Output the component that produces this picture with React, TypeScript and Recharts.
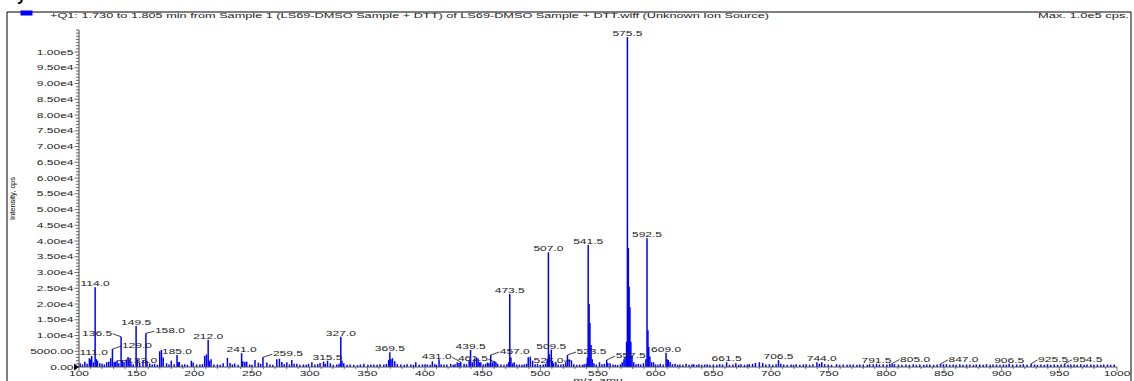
import React from 'react';
import { ComposedChart, Scatter, XAxis, YAxis, ErrorBar } from 'recharts';

const FONT = '"Liberation Sans", Arial, Helvetica, sans-serif';
const BLUE = '#0000ff';
const TEXT = '#222222';

// [m/z, intensity (cps)]
const lowMassPoints: [number, number][] = [
  [101.0, 1200], [103.0, 800], [105.0, 1700], [107.0, 1000], [109.0, 2800], [110.0, 2400],
  [111.0, 3500], [112.5, 1500], [114.0, 25300], [115.0, 2500], [116.0, 2000], [118.0, 1200],
  [120.0, 1000], [122.0, 800], [124.0, 1500], [125.8, 1700], [127.5, 2800], [129.0, 5700],
  [130.5, 1500], [131.5, 1700], [133.0, 2000], [134.5, 1200], [136.5, 9600], [137.5, 2000],
  [139.0, 1600], [141.0, 2400], [142.5, 3200], [143.5, 2500], [145.0, 1200], [147.0, 900],
  [149.5, 13000], [150.5, 2500], [152.6, 1300], [155.5, 2200], [158.0, 10700], [159.0, 2000],
  [161.3, 1100], [163.5, 800], [165.6, 1000], [168.0, 700], [170.0, 5000], [171.5, 5400],
  [173.0, 3000], [175.9, 1200], [178.0, 800], [180.0, 2000], [182.5, 900], [185.0, 3800],
  [186.0, 1500], [187.0, 1600], [189.5, 700], [191.7, 900], [194.0, 700], [197.4, 2000],
  [199.0, 1400], [202.0, 800], [204.8, 800], [207.0, 900], [209.0, 3500], [210.5, 4000],
  [212.0, 8600], [213.0, 2000], [214.5, 2500], [217.0, 800], [220.0, 800], [222.5, 700],
  [225.0, 1200], [228.7, 2900], [231.0, 1300], [233.0, 800], [235.0, 1100], [238.0, 700],
  [241.0, 4400], [242.0, 1800], [243.8, 1700], [245.4, 1700], [248.0, 800],
];

const midMassPoints: [number, number][] = [
  [250.0, 700], [252.6, 2200], [255.5, 1400], [257.5, 1000], [259.5, 3100], [262.9, 1400],
  [265.5, 800], [268.0, 700], [271.5, 2500], [273.8, 2600], [275.9, 1600], [278.0, 900],
  [280.2, 1500], [282.5, 800], [284.5, 2200], [286.5, 1000], [288.9, 1000], [291.5, 700],
  [294.6, 800], [297.0, 700], [299.0, 1000], [301.9, 1500], [304.5, 800], [307.0, 900],
  [309.0, 1300], [312.0, 1700], [313.5, 1000], [315.5, 2000], [317.9, 1200], [320.5, 700],
  [323.5, 800], [325.5, 1000], [327.0, 9600], [328.0, 2000], [329.6, 1200], [332.5, 700],
  [335.0, 800], [338.3, 700], [341.5, 600], [344.0, 800], [347.0, 1000], [350.5, 700],
  [353.0, 800], [355.6, 800], [358.5, 700], [361.0, 900], [364.3, 800], [366.5, 1000],
  [368.5, 2200], [369.5, 4700], [370.5, 2500], [371.8, 2800], [373.8, 1800], [376.0, 900],
  [379.0, 800], [382.0, 700], [384.5, 900], [387.7, 800], [390.0, 700], [392.0, 1500],
  [395.0, 700], [397.8, 800], [400.0, 900], [402.0, 800], [404.5, 700], [406.4, 1800],
  [408.5, 900], [410.0, 700], [412.2, 2500], [414.0, 900], [416.5, 800], [419.0, 800],
  [422.3, 1000], [424.5, 700], [426.0, 900], [428.0, 1500], [429.5, 1300], [431.0, 1600],
  [433.9, 1000], [436.0, 900], [438.3, 2000], [439.5, 5400], [441.0, 1500], [442.6, 2500],
  [444.6, 3100], [446.0, 2700], [447.0, 1500], [448.4, 1500], [450.5, 800], [452.5, 1000],
  [454.2, 1400], [455.5, 1200], [457.0, 3800], [458.5, 1500], [460.0, 1800], [461.5, 1500],
  [463.0, 1000], [465.8, 800], [468.5, 700], [471.0, 900], [472.5, 1500], [473.5, 23200],
  [474.5, 3000], [476.0, 1200], [477.4, 1500], [479.5, 800], [481.8, 800], [484.0, 700],
  [486.0, 800], [488.0, 1000], [489.5, 3100], [491.3, 3300], [493.3, 2000], [495.5, 900],
  [497.6, 1000],
];

const clusterPoints: [number, number][] = [
  [500.0, 700], [502.5, 800], [504.5, 1000], [506.0, 2500], [507.0, 36400], [507.8, 4000],
  [509.5, 5500], [510.5, 2000], [511.5, 1200], [513.5, 1500], [515.5, 800], [517.8, 800],
  [520.0, 900], [522.0, 1500], [523.5, 3800], [525.0, 2500], [527.0, 2000], [529.0, 900],
  [531.5, 700], [534.0, 800], [536.5, 700], [538.0, 900], [539.8, 1000], [540.8, 3000],
  [541.5, 38700], [542.3, 20000], [543.0, 14000], [544.0, 7000], [545.0, 2500], [546.5, 1200],
  [548.5, 800], [551.3, 1500], [553.5, 900], [555.5, 1000], [557.5, 2200], [558.5, 1300],
  [560.5, 1200], [563.0, 800], [565.0, 700], [567.0, 700], [569.5, 900], [571.0, 1500],
  [572.5, 2500], [573.5, 3300], [574.8, 8000], [575.5, 104800], [576.3, 37800], [577.0, 25500],
  [577.7, 19000], [578.5, 8000], [579.5, 3500], [581.0, 1500], [583.0, 900], [585.0, 1000],
  [587.0, 800], [589.4, 1200], [591.5, 2500], [592.5, 40900], [593.3, 11700], [594.0, 6400],
  [595.0, 3300], [596.5, 1500], [598.2, 1500], [600.0, 800], [602.0, 700], [604.0, 1000],
  [606.5, 800], [609.0, 4500], [610.0, 2500], [611.0, 2200], [612.5, 1600], [614.5, 900],
  [616.8, 1000], [619.0, 700],
];

const highMassPoints: [number, number][] = [
  [621.0, 800], [623.5, 700], [626.4, 1000], [629.0, 700], [631.5, 800], [633.0, 900],
  [635.5, 700], [637.5, 900], [640.0, 700], [642.5, 800], [644.7, 900], [647.0, 700],
  [650.0, 800], [653.0, 700], [655.5, 900], [658.0, 800], [661.5, 1500], [664.0, 700],
  [667.0, 800], [669.5, 1200], [672.0, 700], [674.0, 900], [677.0, 700], [679.5, 800],
  [681.2, 900], [684.0, 1000], [686.5, 1300], [689.9, 1500], [692.8, 1300], [695.5, 800],
  [698.6, 900], [701.5, 700], [704.4, 900], [706.5, 2200], [708.5, 1000], [711.0, 800],
  [714.0, 700], [717.4, 800], [719.5, 700], [721.8, 900], [725.0, 700], [728.0, 800],
  [730.5, 900], [733.5, 700], [736.3, 900], [739.8, 1500], [742.0, 1000], [744.0, 1500],
  [746.5, 900], [749.6, 800], [752.5, 700], [756.8, 900], [759.5, 700], [762.6, 800],
  [766.0, 700], [768.5, 800], [771.3, 800], [774.5, 700], [777.0, 800], [780.0, 800],
  [783.5, 700], [785.5, 900], [788.6, 900], [791.5, 1000], [794.0, 800], [797.3, 900],
  [800.5, 800], [803.0, 1000], [805.0, 1100], [807.0, 900], [810.5, 800], [813.5, 700],
  [817.0, 800], [820.0, 700], [823.3, 900], [826.0, 700], [829.0, 800], [832.5, 700],
  [835.0, 800], [837.7, 800], [841.0, 700], [844.0, 800], [847.0, 1000], [849.5, 900],
  [852.1, 900], [855.0, 700], [857.9, 800], [860.5, 700], [863.7, 900], [866.5, 700],
  [869.5, 800], [872.4, 800], [875.5, 700], [878.0, 800], [881.0, 800], [884.0, 700],
  [886.8, 900], [890.0, 700], [892.5, 800], [895.5, 800], [898.5, 700], [901.5, 800],
  [904.0, 700], [906.5, 1000], [909.5, 800], [913.0, 800], [916.0, 700], [918.8, 900],
  [922.0, 700], [925.5, 1000], [928.5, 800], [931.0, 700], [934.0, 800], [937.0, 700],
  [939.8, 900], [942.5, 700], [945.6, 800], [948.5, 700], [951.5, 800], [954.5, 1000],
  [957.5, 700], [960.0, 800], [962.8, 800], [965.5, 700], [968.6, 900], [971.5, 700],
  [974.0, 800], [977.3, 800], [980.0, 700], [983.0, 800], [986.0, 700], [988.5, 800],
  [991.8, 800], [994.5, 700], [997.6, 800],
];

const labeledPeaks = [
  111.0, 114.0, 129.0, 133.0, 136.5, 149.5, 158.0, 185.0, 212.0, 241.0, 259.5, 315.5, 327.0,
  369.5, 431.0, 439.5, 457.0, 461.5, 473.5, 507.0, 509.5, 523.5, 527.0, 541.5, 557.5, 575.5,
  592.5, 609.0, 661.5, 706.5, 744.0, 791.5, 805.0, 847.0, 906.5, 925.5, 954.5,
];

const xMajorTicks = [100, 150, 200, 250, 300, 350, 400, 450, 500, 550, 600, 650, 700, 750, 800, 850, 900, 950, 1000];
const yMajorTicks = [0, 5000, 10000, 15000, 20000, 25000, 30000, 35000, 40000, 45000, 50000, 55000, 60000, 65000, 70000, 75000, 80000, 85000, 90000, 95000, 100000];

const titleText = '+Q1: 1.730 to 1.805 min from Sample 1 (LS69-DMSO Sample + DTT) of LS69-DMSO Sample + DTT.wiff (Unknown Ion Source)';
const maxText = 'Max. 1.0e5 cps.';

// minor axis ticks (decoration)
const xAllTicks: number[] = [];
for (let v = 100; v <= 1000; v += 10) xAllTicks.push(v);
const yAllTicks: number[] = [];
for (let v = 0; v <= 107000; v += 1000) yAllTicks.push(v);

// label placement nudges in px (dx, dy) for labels drawn with leader lines
const labelNudges: Record<string, [number, number]> = {
  '111.0': [2, 0],
  '129.0': [24.5, 0],
  '133.0': [25, 3],
  '136.5': [-24, 0],
  '158.0': [24, 1],
  '259.5': [25, 0],
  '431.0': [-24, -1.5],
  '461.5': [-23, 0],
  '457.0': [24, 0],
  '527.0': [-23, 3.5],
  '523.5': [24, 0],
  '557.5': [24, -1],
  '805.0': [23, -1],
  '847.0': [23, -1],
  '925.5': [22, -1],
  '954.5': [23, -1],
};

const rows = [...lowMassPoints, ...midMassPoints, ...clusterPoints, ...highMassPoints].map(([mz, intensity]) => ({
  mz,
  intensity,
  err: [intensity, 0],
  label: labeledPeaks.includes(mz) ? mz.toFixed(1) : null,
}));

function formatY(v: number): string {
  if (v < 10000) return v.toFixed(2);
  const e = Math.floor(Math.log10(v) + 1e-9);
  return (v / Math.pow(10, e)).toFixed(2) + 'e' + e;
}

function SText({ x, y, anchor, children, size = 7.5, sx = 1.6, fill = TEXT }: any) {
  return (
    <text
      transform={`translate(${x},${y}) scale(${sx},1)`}
      textAnchor={anchor}
      fontSize={size}
      fontFamily={FONT}
      fill={fill}
    >
      {children}
    </text>
  );
}

function YTick(props: any) {
  const { x, y, payload } = props;
  const v = payload.value;
  const major = yMajorTicks.includes(v);
  const len = major ? 4.5 : 3;
  return (
    <g>
      <line x1={x - len} y1={y} x2={x} y2={y} stroke="#444" strokeWidth={0.8} />
      {major && (
        <SText x={x - 5.5} y={y + 2.7} anchor="end">
          {formatY(v)}
        </SText>
      )}
      {v === 0 && <polygon points={`${x - 5},${y - 3.5} ${x - 5},${y + 3.5} ${x},${y}`} fill="#000" />}
    </g>
  );
}

function XTick(props: any) {
  const { x, y, payload } = props;
  const v = payload.value;
  const major = xMajorTicks.includes(v);
  const len = major ? 4 : 2;
  return (
    <g>
      <line x1={x} y1={y} x2={x} y2={y + len} stroke="#555" strokeWidth={0.8} />
      {major && (
        <SText x={x} y={y + 9} anchor="middle">
          {String(v)}
        </SText>
      )}
    </g>
  );
}

function PeakShape(props: any) {
  const { cx, cy, payload } = props;
  if (!payload || !payload.label || cx == null || cy == null) return <g />;
  const nudge = labelNudges[payload.label] || [0, 0];
  const lx = cx + nudge[0];
  const base = cy - 1 + nudge[1];
  const half = 15;
  let leader = null;
  if (Math.abs(nudge[0]) > 5) {
    const ex = nudge[0] > 0 ? lx - half - 0.5 : lx + half + 0.5;
    leader = <line x1={cx} y1={cy} x2={ex} y2={base - 2} stroke="#111" strokeWidth={0.8} />;
  }
  return (
    <g>
      {leader}
      <SText x={lx} y={base} anchor="middle">
        {payload.label}
      </SText>
    </g>
  );
}

export default function App() {
  return (
    <div style={{ position: 'absolute', left: 0, top: 0, width: 1134, height: 381, background: '#fff', overflow: 'hidden' }}>
      <ComposedChart width={1134} height={381} data={rows} margin={{ top: 30, right: 17, bottom: 0, left: 0 }}>
        <XAxis
          type="number"
          dataKey="mz"
          domain={[100, 1000]}
          ticks={xAllTicks}
          interval={0}
          tick={(p: any) => <XTick {...p} />}
          tickLine={false}
          tickSize={0}
          tickMargin={0}
          axisLine={{ stroke: '#555', strokeWidth: 1.2 }}
          height={14}
          allowDataOverflow
        />
        <YAxis
          type="number"
          dataKey="intensity"
          domain={[0, 107000]}
          ticks={yAllTicks}
          interval={0}
          tick={(p: any) => <YTick {...p} />}
          tickLine={false}
          tickSize={0}
          tickMargin={0}
          width={79}
          axisLine={{ stroke: '#444', strokeWidth: 1 }}
          allowDataOverflow
        />
        <Scatter dataKey="intensity" isAnimationActive={false} shape={(p: any) => <PeakShape {...p} />}>
          <ErrorBar dataKey="err" direction="y" width={0} stroke={BLUE} strokeWidth={1.5} isAnimationActive={false} />
        </Scatter>
      </ComposedChart>
      <svg width={1134} height={381} style={{ position: 'absolute', left: 0, top: 0, pointerEvents: 'none' }}>
        <line x1={7} y1={12} x2={1131} y2={12} stroke="#000" strokeWidth={1} />
        <line x1={7} y1={12} x2={7} y2={381} stroke="#000" strokeWidth={1} />
        <line x1={1131} y1={12} x2={1131} y2={381} stroke="#000" strokeWidth={1} />
        <text x={17} y={1} fontSize={16} fontWeight="bold" fontFamily={FONT} fill="#000">y</text>
        <rect x={20.5} y={10.5} width={12} height={5} fill={BLUE} />
        <text x={50} y={17.5} fontSize={7.5} fontFamily={FONT} fill={TEXT} textLength={719} lengthAdjust="spacingAndGlyphs">
          {titleText}
        </text>
        <text x={1038} y={17.5} fontSize={7.5} fontFamily={FONT} fill={TEXT} textLength={91} lengthAdjust="spacingAndGlyphs">
          {maxText}
        </text>
        <text
          transform="translate(14.5,198.5) rotate(-90)"
          textAnchor="middle"
          fontSize={6.5}
          fontFamily={FONT}
          fill="#000"
          textLength={43}
          lengthAdjust="spacingAndGlyphs"
        >
          Intensity, cps
        </text>
        <SText x={598} y={383} anchor="middle">m/z, amu</SText>
      </svg>
    </div>
  );
}
